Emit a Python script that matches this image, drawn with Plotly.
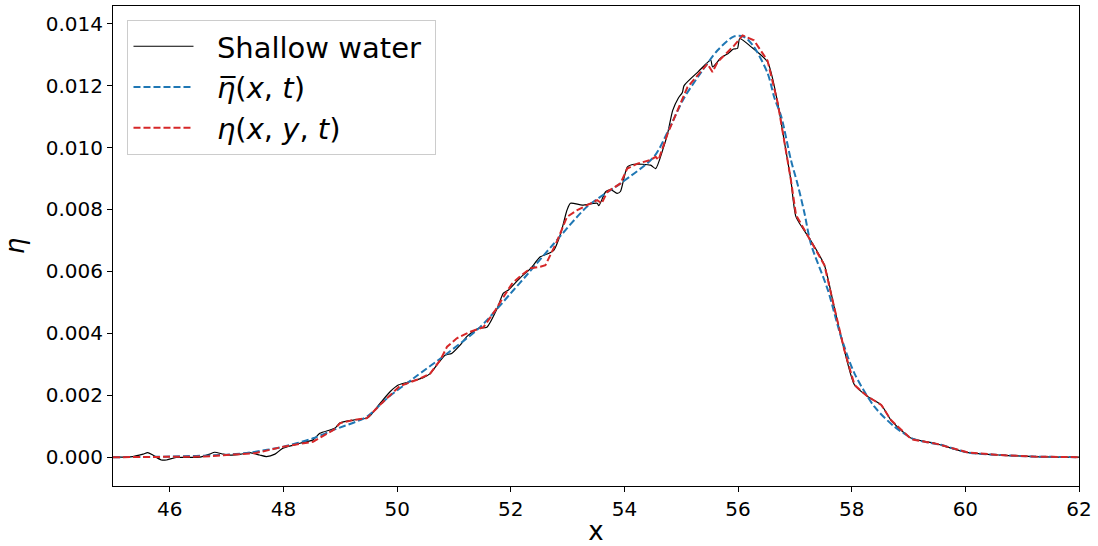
import plotly.graph_objects as go

# Shallow water (black solid)
sw_x = [45.0, 45.3, 45.53, 45.61, 45.70, 45.85, 45.94, 46.11, 46.53, 46.70, 46.79, 46.94, 47.05, 47.25, 47.41,
        47.58, 47.70, 47.85, 47.99, 48.29, 48.52, 48.64, 48.82, 48.91, 48.99, 49.23, 49.49, 49.70, 49.88,
        50.02, 50.23, 50.46, 50.58, 50.75, 50.85, 50.96, 51.10, 51.23, 51.43, 51.58, 51.76, 51.87, 51.96,
        52.17, 52.35, 52.52, 52.64, 52.76, 52.88, 52.99, 53.05, 53.26, 53.52, 53.55, 53.67, 53.76, 53.87,
        53.93, 54.05, 54.17, 54.46, 54.55, 54.67, 54.76, 54.85, 54.95, 55.02, 55.05, 55.30, 55.52, 55.55,
        55.70, 55.82, 55.92, 55.99, 56.03, 56.23, 56.52, 56.70, 56.81, 56.93, 57.02, 57.28, 57.52, 57.69,
        57.87, 58.05, 58.28, 58.52, 58.69, 59.05, 59.46, 59.75, 60.05, 60.60, 61.20, 62.0]
sw_y = [0.0, 0.00001, 0.0001, 0.00015, 0.00007, -0.00009, -0.00009, -0.00001, 0.0, 0.0001, 0.00016, 0.0001, 0.00007,
        0.0001, 0.00015, 0.00007, 0.00002, 0.0001, 0.00029, 0.00045, 0.00056, 0.00077, 0.00088, 0.00094, 0.0011,
        0.0012, 0.00128, 0.00174, 0.00212, 0.00233, 0.00244, 0.00257, 0.0027, 0.0031, 0.0033, 0.00335, 0.0036,
        0.0039, 0.00416, 0.0042, 0.0048, 0.0053, 0.0054, 0.0058, 0.0061, 0.00647, 0.00656, 0.00669, 0.00723,
        0.00798, 0.0082, 0.00814, 0.0082, 0.00812, 0.00857, 0.00864, 0.00852, 0.00858, 0.00937, 0.00946,
        0.00943, 0.00932, 0.0099, 0.01045, 0.0112, 0.0116, 0.01178, 0.0120, 0.01245, 0.01282, 0.0126, 0.0129,
        0.01303, 0.01318, 0.0132, 0.01352, 0.01325, 0.01276, 0.01142, 0.01024, 0.00895, 0.00776, 0.0070,
        0.0062, 0.00486, 0.00346, 0.00233, 0.00196, 0.00169, 0.0012, 0.00061, 0.00045, 0.00029, 0.00015,
        0.00007, 0.00002, 0.0]

# eta bar (blue dashed)
bar_x = [45.0, 46.0, 47.0, 47.41, 48.0, 48.52, 48.88, 49.47, 49.82, 50.29, 50.88, 51.46, 52.05, 52.29, 52.76,
         53.35, 53.93, 54.52, 54.76, 55.05, 55.34, 55.64, 55.93, 56.11, 56.28, 56.52, 56.64, 56.76, 56.93,
         57.05, 57.17, 57.28, 57.58, 57.81, 58.05, 58.40, 58.75, 59.10, 59.57, 60.05, 60.63, 61.22, 62.0]
bar_y = [0.0, 0.00002, 0.00008, 0.00015, 0.00034, 0.00061, 0.00088, 0.00131, 0.0019, 0.00255, 0.00335, 0.0042,
         0.0054, 0.0059, 0.0069, 0.0081, 0.00884, 0.0097, 0.0105, 0.0116, 0.0124, 0.01314, 0.01359, 0.01357,
         0.01325, 0.0124, 0.0116, 0.0110, 0.0096, 0.0088, 0.00787, 0.0069, 0.0054, 0.0039, 0.0027, 0.00163,
         0.00099, 0.00058, 0.0004, 0.00015, 0.00007, 0.00002, 0.0]

# eta(x, y, t) (red dashed)
full_x = [45.0, 46.0, 46.6, 47.0, 47.5, 48.0, 48.52, 48.88, 49.0, 49.23, 49.47, 49.76, 50.05, 50.35, 50.58,
          50.76, 50.88, 51.05, 51.29, 51.52, 51.73, 51.88, 52.02, 52.17, 52.35, 52.52, 52.61, 52.82, 52.99,
          53.17, 53.52, 53.60, 53.70, 53.93, 54.05, 54.23, 54.46, 54.55, 54.60, 54.76, 55.11, 55.46, 55.55,
          55.64, 55.93, 56.08, 56.28, 56.52, 56.70, 56.81, 56.93, 57.02, 57.28, 57.52, 57.69, 57.87, 58.05,
          58.28, 58.52, 58.69, 59.05, 59.50, 60.05, 60.60, 61.20, 62.0]
full_y = [0.0, 0.0, 0.00002, 0.00007, 0.00013, 0.00034, 0.0005, 0.00088, 0.0011, 0.0012, 0.00126, 0.0018,
          0.0023, 0.0025, 0.0027, 0.00314, 0.00357, 0.00384, 0.00405, 0.0042, 0.00475, 0.0052, 0.0056,
          0.00585, 0.0061, 0.00615, 0.0062, 0.0070, 0.00776, 0.00798, 0.0083, 0.0082, 0.00857, 0.00884,
          0.00932, 0.00948, 0.0096, 0.0097, 0.0096, 0.01045, 0.01195, 0.0127, 0.01244, 0.01276, 0.01329,
          0.01362, 0.01346, 0.0128, 0.01142, 0.01024, 0.00895, 0.00782, 0.00696, 0.0062, 0.00486, 0.00346,
          0.00233, 0.00196, 0.00169, 0.0012, 0.00058, 0.00043, 0.00015, 0.00007, 0.00002, 0.0]

x_ticks = [46, 48, 50, 52, 54, 56, 58, 60, 62]
y_ticks = [0.000, 0.002, 0.004, 0.006, 0.008, 0.010, 0.012, 0.014]

FONT = "DejaVu Sans"
GAP = "\u00a0\u00a0"

fig = go.Figure()
fig.add_trace(go.Scatter(x=sw_x, y=sw_y, mode="lines", name=GAP + "Shallow water\u00a0",
                         line=dict(color="black", width=1.2, shape="spline", smoothing=0.6)))
fig.add_trace(go.Scatter(x=bar_x, y=bar_y, mode="lines", name=GAP + "<i>η̅</i>(<i>x</i>, <i>t</i>)",
                         line=dict(color="#1f77b4", width=2, dash="7px,3px", shape="spline", smoothing=0.8)))
fig.add_trace(go.Scatter(x=full_x, y=full_y, mode="lines", name=GAP + "<i>η</i>(<i>x</i>, <i>y</i>, <i>t</i>)",
                         line=dict(color="#d62728", width=2, dash="7px,3px")))

axis_common = dict(showline=True, linecolor="black", linewidth=1, mirror=True, ticks="outside",
                   ticklen=5, tickwidth=1, tickcolor="black", showgrid=False, zeroline=False,
                   tickfont=dict(family=FONT, size=20, color="black"))

fig.update_xaxes(range=[45, 62], tickvals=x_ticks, ticktext=[str(v) for v in x_ticks],
                 automargin="left+right",
                 title=dict(text="x", font=dict(family=FONT, size=26, color="black"), standoff=10),
                 **axis_common)
fig.update_yaxes(range=[-0.00093, 0.01457], tickvals=y_ticks, ticktext=[f"{v:.3f}" for v in y_ticks],
                 automargin=False,
                 title=dict(text="<i>η</i>", font=dict(family=FONT, size=26, color="black"), standoff=14),
                 **axis_common)

fig.update_layout(
    width=1098, height=546,
    margin=dict(l=113, r=17, t=6, b=60),
    plot_bgcolor="white", paper_bgcolor="white",
    font=dict(family=FONT, color="black"),
    showlegend=True,
    legend=dict(x=0.015, y=0.971, xanchor="left", yanchor="top",
                bgcolor="rgba(255,255,255,0.8)", bordercolor="#cccccc", borderwidth=1,
                font=dict(family=FONT, size=29, color="black"), itemwidth=60,
                tracegroupgap=0),
)

fig.write_html("out.html", config={"displayModeBar": False},
               post_script="document.body.style.margin='0';")
